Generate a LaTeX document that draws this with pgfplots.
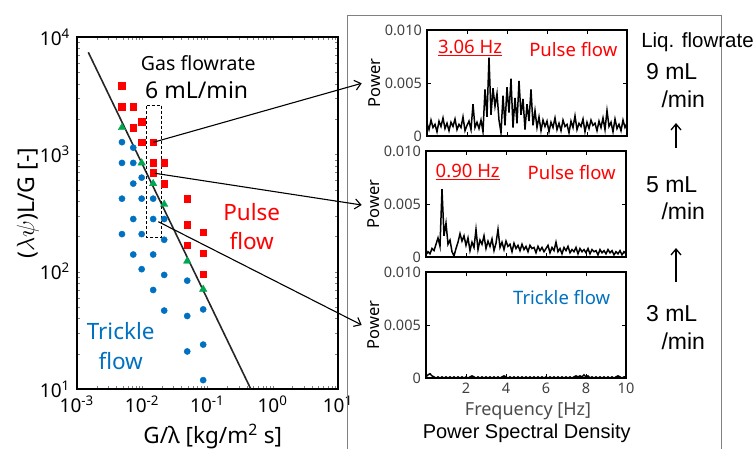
\documentclass[border=0pt]{standalone}
\usepackage{fontspec}
\setmainfont{Noto Sans}
\newfontfamily\arial{Liberation Sans}
\usepackage{pgfplots}
\pgfplotsset{compat=1.18}
\usepackage{pgfplotstable}
\usetikzlibrary{arrows.meta}

\definecolor{pulsered}{RGB}{255,0,0}
\definecolor{trickleblue}{RGB}{0,112,192}
\definecolor{bordergreen}{RGB}{0,166,80}

\newcommand{\myfs}[1]{\fontsize{#1}{#1}\selectfont}

% power spectra, units of 1e-4; a = 9 mL/min, b = 5 mL/min, c = 3 mL/min
\pgfplotstableread{
f a b c
0.0 12 2 1
0.1 6 5 3
0.2 15 3 4
0.3 8 8 2
0.4 11 6 1
0.5 4 12 0
0.6 14 18 1
0.7 9 10 0
0.8 17 64 1
0.9 7 20 0
1.0 12 32 1
1.1 5 12 0
1.2 13 16 1
1.3 9 5 0
1.4 16 1 1
1.5 6 8 0
1.6 11 14 1
1.7 8 22 0
1.8 18 15 1
1.9 5 20 0
2.0 10 11 1
2.1 14 18 0
2.2 6 6 1
2.3 30 14 2
2.4 8 9 1
2.5 13 26 0
2.6 7 7 1
2.7 15 16 0
2.8 4 12 1
2.9 44 20 0
3.0 18 8 1
3.1 74 15 0
3.2 20 10 1
3.3 45 17 0
3.4 28 6 1
3.5 40 13 0
3.6 15 26 1
3.7 3 9 0
3.8 38 14 1
3.9 10 7 2
4.0 46 15 1
4.1 22 10 0
4.2 54 12 1
4.3 8 5 0
4.4 36 13 1
4.5 12 8 0
4.6 52 11 1
4.7 20 6 0
4.8 35 12 1
4.9 6 7 0
5.0 30 10 1
5.1 14 5 0
5.2 44 11 1
5.3 10 8 0
5.4 24 9 1
5.5 8 4 0
5.6 18 10 1
5.7 5 6 0
5.8 15 9 1
5.9 9 5 0
6.0 14 8 1
6.1 4 11 0
6.2 13 4 1
6.3 8 9 0
6.4 17 6 1
6.5 6 14 0
6.6 12 5 1
6.7 5 8 0
6.8 15 3 1
6.9 9 9 0
7.0 11 6 1
7.1 3 10 0
7.2 14 4 1
7.3 8 7 0
7.4 19 5 1
7.5 6 9 2
7.6 12 3 1
7.7 9 8 2
7.8 16 5 1
7.9 4 7 3
8.0 13 4 1
8.1 7 8 2
8.2 15 3 0
8.3 10 7 1
8.4 12 5 0
8.5 5 6 1
8.6 14 2 0
8.7 8 7 1
8.8 17 4 0
8.9 6 6 1
9.0 24 3 0
9.1 9 7 1
9.2 13 4 0
9.3 4 6 1
9.4 16 2 0
9.5 7 5 1
9.6 11 3 2
9.7 5 6 1
9.8 15 2 0
9.9 8 5 1
10.0 12 3 1
}\psd

\pgfplotsset{
  psd/.style={
    scale only axis, width=200pt, height=106pt, anchor=south west,
    xmin=0, xmax=10, ymin=0, ymax=100,
    xtick={2,4,6,8,10}, ytick={0,50,100},
    yticklabels={0,0.005,0.010},
    tick align=inside, major tick length=4pt,
    axis line style={line width=1.1pt},
    tick style={line width=0.9pt, black},
    tick label style={text=black!75, scale=1.45},
    ylabel=Power,
    ylabel style={at={(axis description cs:-0.26,0.5)}, anchor=center, font=\myfs{16.5}},
  },
}

\begin{document}
\begin{tikzpicture}[x=1pt, y=1pt]
\useasboundingbox (0,0) rectangle (756,448);

% flow regime map
\begin{axis}[
  scale only axis, width=261pt, height=352pt,
  at={(77pt,59pt)}, anchor=south west,
  xmode=log, ymode=log,
  xmin=1e-3, xmax=10, ymin=10, ymax=1e4,
  xtick={1e-3,1e-2,1e-1,1,10},
  xticklabels={10\textsuperscript{-3},10\textsuperscript{-2},10\textsuperscript{-1},10\textsuperscript{0},10\textsuperscript{1}},
  ytick={10,100,1000,10000},
  yticklabels={10\textsuperscript{1},10\textsuperscript{2},10\textsuperscript{3},10\textsuperscript{4}},
  minor xtick={}, minor ytick={},
  major tick length=0pt,
  axis line style={line width=1.6pt},
  tick label style={scale=1.9},
  xlabel={G/λ [kg/m\textsuperscript{2} s]},
  ylabel={($\lambda\psi$)L/G [-]},
  xlabel style={at={(axis description cs:0.52,-0.135)}, anchor=center, font=\myfs{22.5}},
  ylabel style={at={(axis description cs:-0.188,0.528)}, anchor=center, font=\myfs{23}},
]
\addplot[black!85, line width=1.6pt] coordinates {(1.49e-3,7410) (0.457,10.1)};
\addplot[only marks, mark=*, mark size=3.1pt, color=trickleblue] coordinates {
  (0.00489,1270) (0.00489,845) (0.00489,419) (0.00489,209)
  (0.00728,1140) (0.00728,845) (0.00728,563) (0.00728,281) (0.00728,140)
  (0.0098,633) (0.0098,419) (0.0098,209) (0.0098,105)
  (0.0147,419) (0.0147,281) (0.0147,140) (0.0147,69.8)
  (0.0217,281) (0.0217,187) (0.0217,93.8) (0.0217,46.6)
  (0.0489,83.8) (0.0489,41.9) (0.0489,20.9)
  (0.0859,47.7) (0.0859,23.9) (0.0859,11.9)
};
\addplot[only marks, mark=square*, mark size=3.3pt, color=pulsered] coordinates {
  (0.00489,3830) (0.00489,2550)
  (0.00728,2550) (0.00728,1690)
  (0.0098,1900) (0.0098,1270)
  (0.0147,1270) (0.0147,845) (0.0147,698)
  (0.0217,845) (0.0217,563)
  (0.0489,419) (0.0489,250) (0.0489,168)
  (0.0859,217) (0.0859,144) (0.0859,95.5)
};
\addplot[only marks, mark=triangle*, mark size=4.3pt, color=bordergreen] coordinates {
  (0.00489,1690) (0.0098,845) (0.0147,563) (0.0217,375) (0.0489,123) (0.0859,70.8)
};
\addplot[black, line width=0.7pt, densely dashed] coordinates {
  (0.01167,2600) (0.0198,2600) (0.0198,196) (0.01167,196) (0.01167,2600)
};
\end{axis}

\node[font=\myfs{19.5}] at (198.3,385.3) {Gas flowrate};
\node[font=\myfs{23}] at (196.7,358) {6 mL/min};
\node[font=\myfs{22.5}, text=pulsered] at (251.7,236.3) {Pulse};
\node[font=\myfs{22.5}, text=pulsered] at (251.7,207.3) {flow};
\node[font=\myfs{22.5}, text=trickleblue] at (120.7,117) {Trickle};
\node[font=\myfs{22.5}, text=trickleblue] at (120.7,87) {flow};

% frame round the spectra
\draw[black!50, line width=1pt] (347,-22) -- (347,432.5) -- (721.7,432.5) -- (721.7,-22);

% spectra
\begin{axis}[psd, at={(427pt,312pt)}, xticklabels={}]
\addplot[black, line width=1.5pt] table[x=f, y=a] {\psd};
\end{axis}
\begin{axis}[psd, at={(426pt,191pt)}, xticklabels={}]
\addplot[black, line width=1.5pt] table[x=f, y=b] {\psd};
\end{axis}
\begin{axis}[psd, at={(426pt,70pt)}, xticklabels={2,4,6,8,10},
  xlabel={Frequency [Hz]},
  xlabel style={at={(axis description cs:0.51,-0.31)}, anchor=center, font=\myfs{18}, text=black!70}]
\addplot[black, line width=1.5pt] table[x=f, y=c] {\psd};
\end{axis}

\node[font=\myfs{18.5}, text=pulsered] at (470,399.7) {\underline{3.06 Hz}};
\node[font=\myfs{18.5}, text=pulsered] at (573.3,398.7) {Pulse flow};
\node[font=\myfs{18.5}, text=pulsered] at (467.7,275.7) {\underline{0.90 Hz}};
\node[font=\myfs{18.5}, text=pulsered] at (571.7,275.7) {Pulse flow};
\node[font=\myfs{18.5}, text=trickleblue] at (561.7,150.3) {Trickle flow};
\node[font=\arial\myfs{20}] at (526.7,14.7) {Power Spectral Density};

% liquid flowrate column
\node[font=\arial\myfs{20.5}] at (697.5,405.3) {Liq. flowrate};
\node[font=\arial\myfs{23}] at (671.7,376.3) {9 mL};
\node[font=\arial\myfs{23}] at (683.3,349) {/min};
\node[font=\arial\myfs{23}] at (671.7,263) {5 mL};
\node[font=\arial\myfs{23}] at (683.3,236.3) {/min};
\node[font=\arial\myfs{23}] at (671.7,134.7) {3 mL};
\node[font=\arial\myfs{23}] at (683.3,107) {/min};
\draw[line width=1.3pt, -{Straight Barb[length=6pt,width=10pt]}] (676,300) -- (676,325);
\draw[line width=1.3pt, -{Straight Barb[length=6pt,width=10pt]}] (676,166) -- (676,200);

% links from the map to the spectra
\draw[line width=1.1pt, -{Straight Barb[length=6pt,width=10pt]}] (153.3,305.7) -- (361.7,364.7);
\draw[line width=1.1pt, -{Straight Barb[length=6pt,width=10pt]}] (155,274.7) -- (361.7,243);
\draw[line width=1.1pt, -{Straight Barb[length=6pt,width=10pt]}] (158.3,226.3) -- (361.7,123);
\end{tikzpicture}
\end{document}
